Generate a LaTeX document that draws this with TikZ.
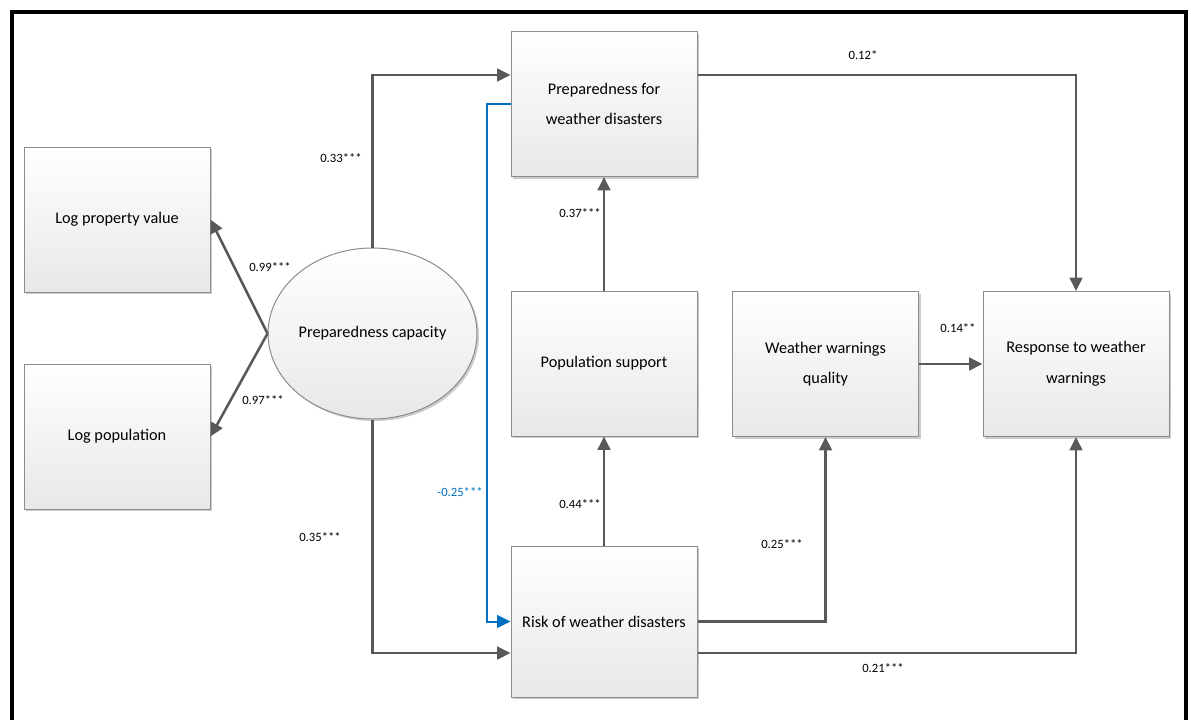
\documentclass[tikz,border=0pt]{standalone}
\usepackage{fontspec}
\setmainfont{Carlito}
\usetikzlibrary{arrows.meta,calc,shapes.geometric,shadows}
\definecolor{linegray}{HTML}{595959}
\definecolor{boxgray}{HTML}{8C8C8C}
\definecolor{pathblue}{HTML}{0070C0}
\begin{document}
\begin{tikzpicture}[x=0.75pt,y=-0.75pt,
    box/.style={draw=boxgray,line width=0.75pt,top color=white,bottom color=black!9,
        minimum width=139.5pt,minimum height=108.75pt,inner sep=0pt,align=center,
        font=\fontsize{12.2}{22.9}\selectfont,
        drop shadow={shadow xshift=1.5pt,shadow yshift=-1.5pt,opacity=0.2,fill=black}},
    latent/.style={box,ellipse,minimum width=150pt,minimum height=128.25pt},
    arr/.style={draw=linegray,line width=1.9pt,-{Triangle[length=10pt,width=9.5pt]}},
    bluearr/.style={arr,draw=pathblue,line width=1.5pt},
    coef/.style={font=\fontsize{9.5}{11}\selectfont,inner sep=0pt}]
    \useasboundingbox (0,0) rectangle (1191,719);
    \draw[line width=3pt] (11.5,11.5) rectangle (1185.5,760);
    % variables
    \node[box] (lpv) at (117,219.5) {Log property value};
    \node[box] (lpop) at (117,436.5) {Log population};
    \node[latent] (cap) at (372.5,333.5) {Preparedness capacity};
    \node[box] (prep) at (604,104) {Preparedness for\\weather disasters};
    \node[box] (pop) at (604,363.5) {Population support};
    \node[box] (wwq) at (825.5,364) {Weather warnings\\quality};
    \node[box] (resp) at (1076,364) {Response to weather\\warnings};
    \node[box,minimum height=113.25pt] (risk) at (604,621.5) {Risk of weather disasters};
    % paths
    \draw[arr] (cap.west) -- (lpv.east);
    \draw[arr] (cap.west) -- (lpop.east);
    \draw[arr] (cap.north) |- ($(prep.west)+(0,-29)$);
    \draw[arr] (cap.south) |- ($(risk.west)+(0,31.5)$);
    \draw[bluearr] (prep.west) -- ++(-24,0) |- (risk.west);
    \draw[arr] (pop.north) -- (prep.south);
    \draw[arr] (risk.north) -- (pop.south);
    \draw[arr] (risk.east) -| (wwq.south);
    \draw[arr] ($(risk.east)+(0,31.5)$) -| (resp.south);
    \draw[arr] (wwq.east) -- (resp.west);
    \draw[arr] ($(prep.east)+(0,-29)$) -| (resp.north);
    % coefficients
    \node[coef] (c99) at (270,267) {0.99***};
    \node[coef] (c97) at (263,400) {0.97***};
    \node[coef] (c33) at (341,158) {0.33***};
    \node[coef] (c35) at (320,537) {0.35***};
    \node[coef,text=pathblue] (cneg) at (460,492) {-0.25***};
    \node[coef] (c37) at (580,213) {0.37***};
    \node[coef] (c44) at (580,504) {0.44***};
    \node[coef] (c25) at (782,544) {0.25***};
    \node[coef] (c21) at (883,668) {0.21***};
    \node[coef] (c14) at (958,328) {0.14**};
    \node[coef] (c12) at (863,55) {0.12*};
\end{tikzpicture}
\end{document}
